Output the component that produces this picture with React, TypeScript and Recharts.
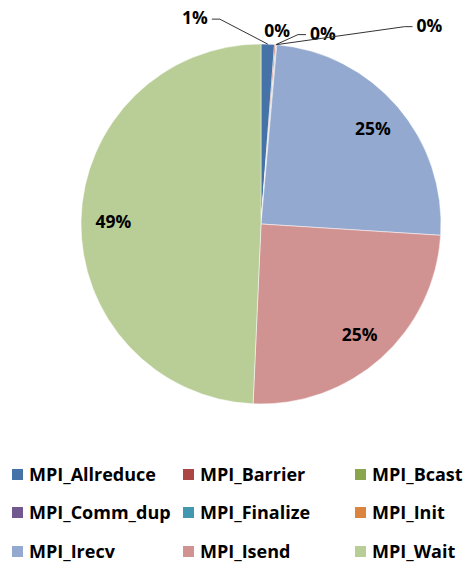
import { PieChart, Pie, Cell, Legend } from 'recharts';

const names = [
  'MPI_Allreduce',
  'MPI_Barrier',
  'MPI_Bcast',
  'MPI_Comm_dup',
  'MPI_Finalize',
  'MPI_Init',
  'MPI_Irecv',
  'MPI_Isend',
  'MPI_Wait',
];
const shares = [1.2, 0.1, 0.05, 0.05, 0, 0, 24.6, 24.7, 49.3];
const colors = [
  '#4572A7',
  '#AA4643',
  '#89A54E',
  '#71588F',
  '#4198AF',
  '#DB843D',
  '#93A9CF',
  '#D19392',
  '#B9CD96',
];

const data = names.map((name, i) => ({ name, value: shares[i] }));

const FONT = '"Open Sans", "DejaVu Sans", sans-serif';
const RAD = Math.PI / 180;

// where the small outside labels sit, relative to the slice edge
const outside: Record<string, { dx: number; dy: number; line: boolean }> = {
  MPI_Allreduce: { dx: -60, dy: -27, line: true },
  MPI_Barrier: { dx: 2, dy: -15, line: false },
  MPI_Bcast: { dx: 34, dy: -12, line: true },
  MPI_Comm_dup: { dx: 140, dy: -20, line: true },
};

const renderLabel = (props: any) => {
  const { cx, cy, midAngle, outerRadius, percent, name, value } = props;
  if (!value) return null;
  const pct = `${Math.round(percent * 100)}%`;
  const cos = Math.cos(-midAngle * RAD);
  const sin = Math.sin(-midAngle * RAD);
  if (percent >= 0.05) {
    const r = outerRadius * 0.82;
    return (
      <text
        x={cx + r * cos}
        y={cy + r * sin}
        textAnchor="middle"
        dominantBaseline="central"
        fontFamily={FONT}
        fontWeight="bold"
        fontSize={17.5}
        fill="#000"
      >
        {pct}
      </text>
    );
  }
  const o = outside[name];
  if (!o) return null;
  const ex = cx + outerRadius * cos;
  const ey = cy + outerRadius * sin;
  const tx = ex + o.dx;
  const ty = ey + o.dy;
  const left = o.dx < 0;
  const lineEndX = left ? tx + 4 : tx - 4;
  const elbowX = left ? lineEndX + 8 : lineEndX - 8;
  return (
    <g>
      {o.line && (
        <polyline
          points={`${ex},${ey} ${elbowX},${ty + 2} ${lineEndX},${ty + 2}`}
          fill="none"
          stroke="#333"
          strokeWidth={1}
        />
      )}
      <text
        x={tx}
        y={ty}
        textAnchor={left ? 'end' : o.line ? 'start' : 'middle'}
        dominantBaseline="central"
        fontFamily={FONT}
        fontWeight="bold"
        fontSize={17.5}
        fill="#000"
      >
        {pct}
      </text>
    </g>
  );
};

const colX = [12, 183, 355];
const rowY = [475, 513, 552];

const renderLegend = () => (
  <div style={{ position: 'relative', width: 465, height: 100 }}>
    {names.map((name, i) => (
      <div
        key={name}
        style={{
          position: 'absolute',
          left: colX[i % 3],
          top: rowY[Math.floor(i / 3)] - 463 - 13,
          display: 'flex',
          alignItems: 'center',
          fontFamily: FONT,
          fontWeight: 'bold',
          fontSize: 18,
          color: '#000',
          whiteSpace: 'nowrap',
        }}
      >
        <span
          style={{
            display: 'inline-block',
            width: 11,
            height: 11,
            background: colors[i],
            marginRight: 6,
          }}
        />
        {name}
      </div>
    ))}
  </div>
);

export default function App() {
  return (
    <div style={{ position: 'absolute', left: 0, top: 0, width: 465, height: 563, background: '#fff' }}>
      <PieChart width={465} height={563} margin={{ top: 0, right: 0, bottom: 0, left: 0 }}>
        <Pie
          data={data}
          dataKey="value"
          nameKey="name"
          cx={261}
          cy={224}
          outerRadius={180}
          startAngle={90}
          endAngle={-270}
          stroke="#fff"
          strokeWidth={0.5}
          label={renderLabel}
          labelLine={false}
          isAnimationActive={false}
        >
          {data.map((d, i) => (
            <Cell key={d.name} fill={colors[i]} />
          ))}
        </Pie>
        <Legend
          content={renderLegend}
          wrapperStyle={{ position: 'absolute', left: 0, top: 463, width: 465, height: 100 }}
        />
      </PieChart>
    </div>
  );
}
